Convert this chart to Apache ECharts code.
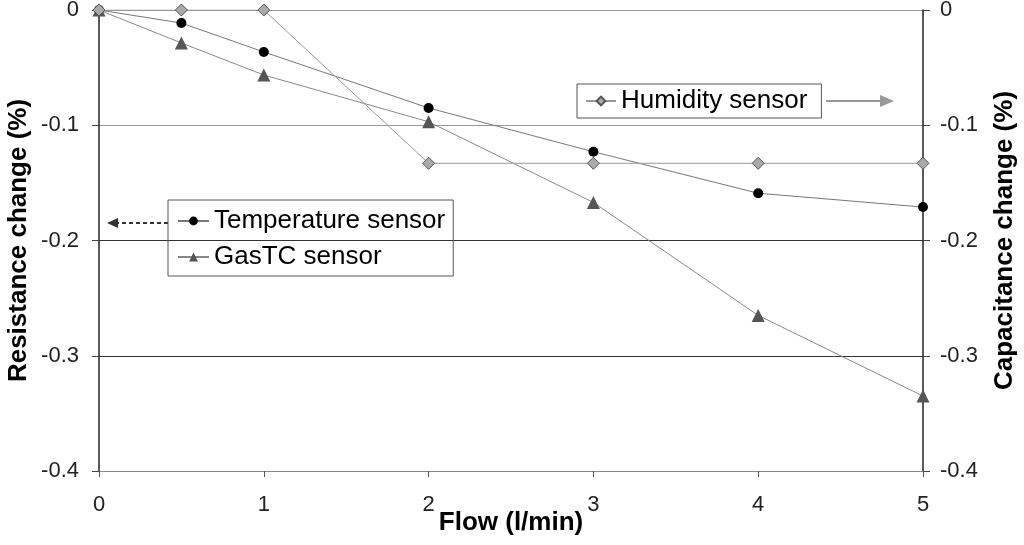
<!DOCTYPE html>
<html>
<head>
<meta charset="utf-8">
<script src="https://cdn.jsdelivr.net/npm/echarts@6/dist/echarts.min.js"></script>
<style>html,body{margin:0;padding:0;background:#fff}#c{width:1024px;height:545px}</style>
</head>
<body>
<div id="c"></div>
<script>
var flow = [0, 0.5, 1, 2, 3, 4, 5];
var temperature = [0, -0.0113, -0.0364, -0.085, -0.123, -0.159, -0.171];
var gasTC = [0, -0.0286, -0.0564, -0.097, -0.167, -0.265, -0.335];
var humidity = [0, 0, 0, -0.133, -0.133, -0.133, -0.133];
var seriesNames = ['Temperature sensor', 'GasTC sensor', 'Humidity sensor'];
var xTitle = 'Flow (l/min)';
var yLeftTitle = 'Resistance change (%)';
var yRightTitle = 'Capacitance change (%)';

function pairs(v) { return flow.map(function (x, i) { return [x, v[i]]; }); }

var font = 'Liberation Sans, Arial, sans-serif';
var chart = echarts.init(document.getElementById('c'));
chart.setOption({
  animation: false,
  backgroundColor: '#fff',
  textStyle: { fontFamily: font },
  grid: { left: 99, right: 101, top: 10, bottom: 74, outerBoundsMode: 'none', containLabel: false },
  legend: [
    {
      data: [seriesNames[2]],
      left: 577, top: 84,
      padding: [4, 14, 4, 8],
      borderColor: '#555', borderWidth: 1,
      itemWidth: 30, itemHeight: 11, itemGap: 8,
      textStyle: { fontSize: 26, color: '#000', fontFamily: font }
    },
    {
      data: [seriesNames[0], seriesNames[1]],
      orient: 'vertical',
      left: 168, top: 200,
      padding: [8, 8, 6, 9],
      borderColor: '#555', borderWidth: 1,
      itemWidth: 31, itemHeight: 11, itemGap: 10,
      textStyle: { fontSize: 26, color: '#000', fontFamily: font }
    }
  ],
  xAxis: {
    type: 'value', min: 0, max: 5, interval: 1,
    name: xTitle, nameLocation: 'middle', nameGap: 39, nameMoveOverlap: false,
    nameTextStyle: { fontSize: 26, fontWeight: 'bold', color: '#000', fontFamily: font },
    axisLine: { show: true, onZero: false, lineStyle: { color: '#888', width: 1 } },
    axisTick: { show: true, length: 6, lineStyle: { color: '#555' } },
    axisLabel: { fontSize: 22, color: '#222', margin: 23, fontFamily: font },
    splitLine: { show: false }
  },
  yAxis: [
    {
      type: 'value', min: -0.4, max: 0, interval: 0.1, position: 'left',
      name: yLeftTitle, nameLocation: 'middle', nameGap: 67, nameRotate: 90, nameMoveOverlap: false,
      nameTextStyle: { fontSize: 26, fontWeight: 'bold', color: '#000', fontFamily: font },
      axisLine: { show: true, lineStyle: { color: '#222', width: 1.5 } },
      axisTick: { show: true, length: 7, lineStyle: { color: '#444' } },
      axisLabel: { fontSize: 22, color: '#222', margin: 20, fontFamily: font },
      splitLine: { show: true, lineStyle: { color: ['#999', '#333', '#333', '#999', '#999'], width: 1 } }
    },
    {
      type: 'value', min: -0.4, max: 0, interval: 0.1, position: 'right',
      name: yRightTitle, nameLocation: 'middle', nameGap: 69, nameRotate: 90, nameMoveOverlap: false,
      nameTextStyle: { fontSize: 26, fontWeight: 'bold', color: '#000', fontFamily: font },
      axisLine: { show: true, lineStyle: { color: '#222', width: 1.5 } },
      axisTick: { show: true, length: 7, lineStyle: { color: '#444' } },
      axisLabel: { fontSize: 22, color: '#222', margin: 17, fontFamily: font },
      splitLine: { show: false }
    }
  ],
  series: [
    {
      name: seriesNames[0], type: 'line', yAxisIndex: 0, data: pairs(temperature),
      symbol: 'circle', symbolSize: 10,
      lineStyle: { color: '#777', width: 1 },
      itemStyle: { color: '#000' }
    },
    {
      name: seriesNames[1], type: 'line', yAxisIndex: 0, data: pairs(gasTC),
      symbol: 'triangle', symbolSize: 13,
      lineStyle: { color: '#888', width: 1 },
      itemStyle: { color: '#555' }
    },
    {
      name: seriesNames[2], type: 'line', yAxisIndex: 1, data: pairs(humidity),
      symbol: 'diamond', symbolSize: 12,
      lineStyle: { color: '#999', width: 1 },
      itemStyle: { color: '#aaa', borderColor: '#555', borderWidth: 1 }
    }
  ],
  graphic: [
    { type: 'line', shape: { x1: 826, y1: 101, x2: 882, y2: 101 }, style: { stroke: '#999', lineWidth: 2 } },
    { type: 'polygon', shape: { points: [[880, 95], [894, 101], [880, 107]] }, style: { fill: '#999' } },
    { type: 'line', shape: { x1: 168, y1: 223, x2: 116, y2: 223 }, style: { stroke: '#333', lineWidth: 2, lineDash: [4, 3] } },
    { type: 'polygon', shape: { points: [[118, 218], [107, 223], [118, 228]] }, style: { fill: '#333' } }
  ]
});
</script>
</body>
</html>
